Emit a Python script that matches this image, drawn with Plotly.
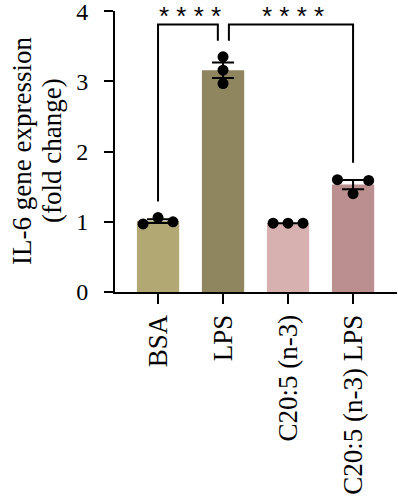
import numpy as np
import plotly.graph_objects as go

categories = ["BSA", "LPS", "C20:5 (n-3)", "C20:5 (n-3) LPS"]
bsa = [0.97, 1.06, 1.00]
lps = [3.35, 3.16, 2.97]
c205 = [0.98, 0.98, 0.98]
c205_lps = [1.60, 1.40, 1.59]
replicates = [bsa, lps, c205, c205_lps]
bar_colors = ["#b1a874", "#8f8660", "#d6b1b0", "#bb8f8f"]
y_max = 4
y_step = 1
sig_label = "* * * *"
title_lines = ["IL-6 gene expression", "(fold change)"]

means = [float(np.mean(r)) for r in replicates]
sems = [float(np.std(r, ddof=1) / np.sqrt(len(r))) for r in replicates]

# horizontal spread of replicate dots, per group (in category units)
spread = [[-0.23, 0, 0.23], [0, 0, 0], [-0.23, 0, 0.23], [-0.24, 0, 0.24]]

FONT = "Liberation Serif"
W, H = 398, 500
L, R, T = 115, 1, 11
PH = 281
B = H - T - PH
PW = W - L - R

fig = go.Figure()
xs = list(range(len(categories)))
fig.add_trace(go.Bar(
    x=xs, y=means, width=0.65,
    marker=dict(color=bar_colors, line=dict(width=0)),
    error_y=dict(type="data", array=sems, visible=True, color="black",
                 thickness=2, width=11),
    showlegend=False,
))
px_, py_ = [], []
for i, r in enumerate(replicates):
    for off, v in zip(spread[i], r):
        px_.append(i + off)
        py_.append(v)
fig.add_trace(go.Scatter(
    x=px_, y=py_, mode="markers",
    marker=dict(color="black", size=11, line=dict(width=0)),
    showlegend=False, cliponaxis=False,
))

# significance brackets: (x_start, y_start, x_end, y_end, top)
brackets = [(0, 1.29, 0.92, 3.58, 3.81), (1.09, 3.58, 3.0, 1.84, 3.81)]
for x0, y0, x1, y1, top in brackets:
    fig.add_shape(type="path",
                  path=f"M {x0} {y0} L {x0} {top} L {x1} {top} L {x1} {y1}",
                  xref="x", yref="y", line=dict(color="black", width=2))
for xc in [0.49, 2.08]:
    fig.add_annotation(x=xc, y=1 + T / PH, xref="x", yref="paper", text=sig_label,
                       showarrow=False, yanchor="top", xanchor="center",
                       borderpad=0,
                       font=dict(family="Liberation Sans", size=26, color="black"))

# y-axis title (two lines placed separately), x centres 22 and 52 px
for txt, xc in zip(title_lines, [22, 52]):
    fig.add_annotation(x=(xc - L) / PW, y=(292 - 151) / PH,
                       xref="paper", yref="paper",
                       text=txt, textangle=-90, showarrow=False,
                       xanchor="center", yanchor="middle",
                       font=dict(family=FONT, size=27, color="black"))

fig.update_layout(
    width=W, height=H,
    margin=dict(l=L, r=R, t=T, b=B),
    plot_bgcolor="white", paper_bgcolor="white",
    font=dict(family=FONT, color="black"),
    hovermode=False,
)
fig.update_xaxes(
    range=[-0.662, 3.676], tickvals=xs, ticktext=categories,
    tickangle=-90, tickfont=dict(size=27, family=FONT),
    showline=True, linecolor="black", linewidth=2,
    ticks="outside", ticklen=10, tickwidth=2, tickcolor="black",
    showgrid=False, zeroline=False, automargin=False,
)
fig.update_yaxes(
    range=[0, y_max + 0.003], tickmode="linear", tick0=0, dtick=y_step,
    tickfont=dict(size=24, family=FONT), ticklabeloverflow="allow",
    showline=True, linecolor="black", linewidth=2,
    ticks="outside", ticklen=9, tickwidth=2, tickcolor="black",
    ticklabelstandoff=11,
    showgrid=False, zeroline=False, automargin=False,
)
fig.write_html("out.html", config={"displayModeBar": False, "staticPlot": True},
               post_script="document.body.style.margin='0';")
